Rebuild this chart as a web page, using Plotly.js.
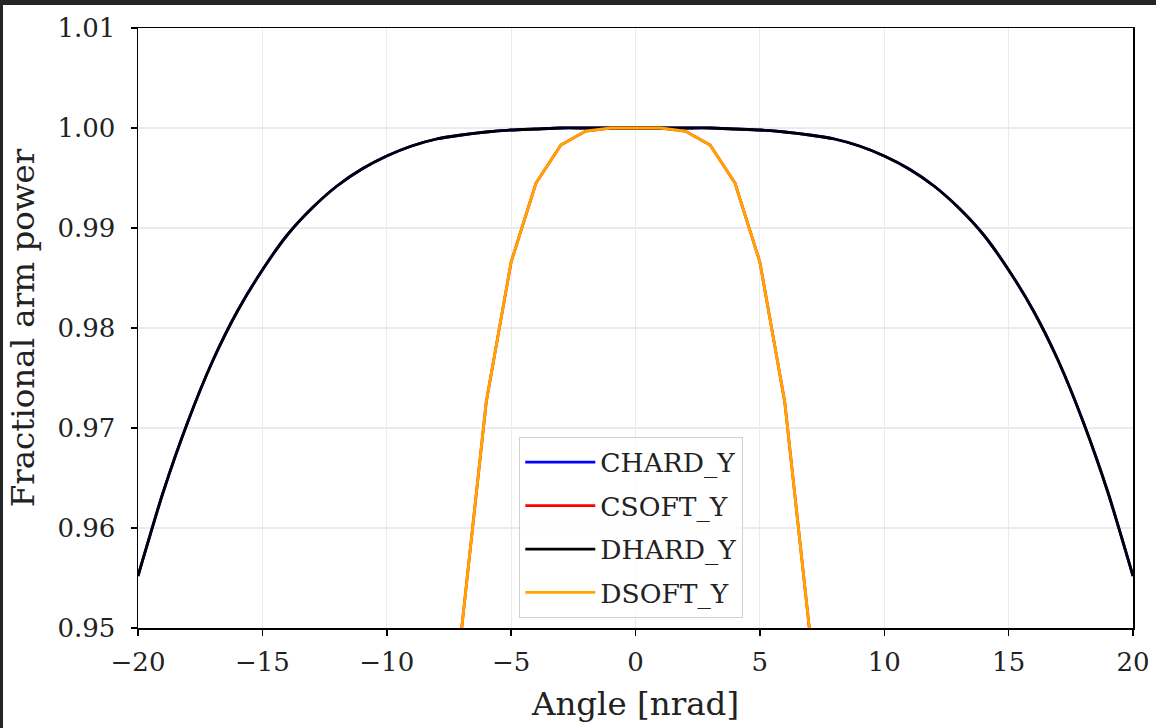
<!DOCTYPE html>
<html>
<head>
<meta charset="utf-8">
<script src="https://cdn.plot.ly/plotly-3.0.1.min.js"></script>
<style>
  html, body { margin: 0; padding: 0; background: #262626; width: 1156px; height: 728px; overflow: hidden; }
  #chart { position: absolute; left: 3px; top: 5px; width: 1153px; height: 723px; background: #ffffff; }
</style>
</head>
<body>
<div id="chart"></div>
<script>
// Angles [nrad]
const angleWide = [-20,-19,-18,-17,-16,-15,-14,-13,-12,-11,-10,-9,-8,-7,-6,-5,-4,-3,-2,-1,0,1,2,3,4,5,6,7,8,9,10,11,12,13,14,15,16,17,18,19,20];
const chardY = [0.9552,0.9635,0.9706,0.9767,0.9817,0.9858,0.9893,0.9920,0.9942,0.9959,0.9972,0.9982,0.9989,0.9993,0.9996,0.9998,0.9999,1.0000,1.0000,1.0000,1.0000,1.0000,1.0000,1.0000,0.9999,0.9998,0.9996,0.9993,0.9989,0.9982,0.9972,0.9959,0.9942,0.9920,0.9893,0.9858,0.9817,0.9767,0.9706,0.9635,0.9552];
const dhardY = [0.9552,0.9635,0.9706,0.9767,0.9817,0.9858,0.9893,0.9920,0.9942,0.9959,0.9972,0.9982,0.9989,0.9993,0.9996,0.9998,0.9999,1.0000,1.0000,1.0000,1.0000,1.0000,1.0000,1.0000,0.9999,0.9998,0.9996,0.9993,0.9989,0.9982,0.9972,0.9959,0.9942,0.9920,0.9893,0.9858,0.9817,0.9767,0.9706,0.9635,0.9552];
const angleNarrow = [-7,-6,-5,-4,-3,-2,-1,0,1,2,3,4,5,6,7];
const csoftY = [0.9497,0.9726,0.9866,0.9945,0.9983,0.9997,1.0000,1.0000,1.0000,0.9997,0.9983,0.9945,0.9866,0.9726,0.9497];
const dsoftY = [0.9497,0.9726,0.9866,0.9945,0.9983,0.9997,1.0000,1.0000,1.0000,0.9997,0.9983,0.9945,0.9866,0.9726,0.9497];
const seriesNames = ['CHARD_Y','CSOFT_Y','DHARD_Y','DSOFT_Y'];
const seriesColors = ['#0000ff','#ff0000','#000000','#ffa500'];
const xTicks = [-20,-15,-10,-5,0,5,10,15,20];
const yTicks = [0.95,0.96,0.97,0.98,0.99,1.00,1.01];

const xs = [angleWide, angleNarrow, angleWide, angleNarrow];
const ys = [chardY, csoftY, dhardY, dsoftY];
const smooth = [true, false, true, false];

const traces = seriesNames.map((n, i) => ({
  x: xs[i], y: ys[i], name: n, type: 'scatter', mode: 'lines',
  legendgroup: 'g' + i,
  line: smooth[i] ? {color: seriesColors[i], width: 2.8, shape: 'spline', smoothing: 0.6}
                  : {color: seriesColors[i], width: 2.8},
  hoverinfo: 'none'
}));

const font = 'DejaVu Serif, serif';
const axisCommon = {
  showline: true, mirror: true, linecolor: '#000000', linewidth: 1.5,
  ticks: 'outside', ticklen: 6, tickwidth: 1.5, tickcolor: '#000000',
  showgrid: true, gridcolor: '#ebebeb', gridwidth: 1.2,
  zeroline: false,
  tickfont: {family: font, size: 26, color: '#222222'}
};

const layout = {
  width: 1153, height: 723,
  margin: {l: 135, r: 23, t: 23, b: 100},
  paper_bgcolor: '#ffffff', plot_bgcolor: '#ffffff',
  showlegend: true,
  xaxis: Object.assign({}, axisCommon, {
    range: [-20, 20], tickmode: 'array', tickvals: xTicks,
    ticktext: xTicks.map(v => v < 0 ? '\u2212' + Math.abs(v) : String(v)),
    ticklabelstandoff: 4,
    title: {text: 'Angle [nrad]', font: {family: font, size: 32.5, color: '#222222'}, standoff: 16}
  }),
  yaxis: Object.assign({}, axisCommon, {
    range: [0.95, 1.01], tickmode: 'array', tickvals: yTicks,
    ticktext: yTicks.map(v => v.toFixed(2)),
    ticklabelstandoff: 10,
    title: {text: 'Fractional arm power', font: {family: font, size: 32.5, color: '#222222'}, standoff: 13}
  }),
  legend: {
    x: 0.383, y: 0.318, xanchor: 'left', yanchor: 'top',
    bgcolor: 'rgba(255,255,255,0.85)', bordercolor: '#d0d0d0', borderwidth: 1.2,
    font: {family: font, size: 26.5, color: '#222222'},
    itemwidth: 70, traceorder: 'grouped', tracegroupgap: 6
  }
};

Plotly.newPlot('chart', traces, layout, {staticPlot: true, displayModeBar: false});
</script>
</body>
</html>
